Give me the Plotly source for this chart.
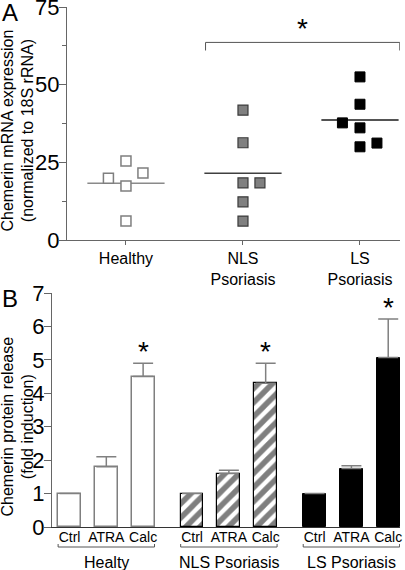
import plotly.graph_objects as go

W, H = 405, 570
FONT = "Liberation Sans, Arial, sans-serif"

# ---------- Panel A data ----------
a_groups = ["Healthy", "NLS<br>Psoriasis", "LS<br>Psoriasis"]
a_group_pos = [1, 2, 3]
healthy_vals = [25.4, 19.9, 17.4, 21.6, 6.1]
healthy_jitter = [0, -0.15, 0, 0.145, 0]
nls_vals = [41.8, 31.3, 18.4, 18.4, 12.3, 6.1]
nls_jitter = [0, 0, 0, 0.145, 0, 0]
ls_vals = [52.5, 43.7, 37.7, 36.1, 30.0, 31.2]
ls_jitter = [0, 0, -0.15, 0, 0, 0.145]
a_means = [18.3, 21.5, 38.6]
bracket_a = [1.68, 3.34, 63.6]

# ---------- Panel B data ----------
b_treat = ["Ctrl", "ATRA", "Calc"]
b_groups = ["Healty", "NLS Psoriasis", "LS Psoriasis"]
healthy_b = [1.0, 1.8, 4.5]
healthy_b_err = [None, 0.3, 0.4]
nls_b = [1.0, 1.6, 4.3]
nls_b_err = [None, 0.1, 0.6]
ls_b = [1.0, 1.75, 5.07]
ls_b_err = [None, 0.08, 1.15]
group_step = 3.33

def px2x(px):
    return px / W

def px2y(py):
    return 1 - py / H

fig = go.Figure()

# ---- Panel A scatter ----
a_series = [
    (healthy_vals, healthy_jitter, "white", "#7f7f7f", 1.5, "#8a8a8a"),
    (nls_vals, nls_jitter, "#808080", "#3a3a3a", 1.2, "#404040"),
    (ls_vals, ls_jitter, "black", "black", 1, "#1a1a1a"),
]
for gi, (vals, jit, fill, edge, ew, mcol) in enumerate(a_series):
    xs = [a_group_pos[gi] + j for j in jit]
    fig.add_trace(go.Scatter(
        x=[a_group_pos[gi] - 0.33, a_group_pos[gi] + 0.33],
        y=[a_means[gi], a_means[gi]], mode="lines", xaxis="x", yaxis="y",
        line=dict(color=mcol, width=1.5), showlegend=False, hoverinfo="skip"))
    fig.add_trace(go.Scatter(
        x=xs, y=vals, mode="markers", xaxis="x", yaxis="y",
        marker=dict(symbol="square", size=10, color=fill,
                    line=dict(color=edge, width=ew)),
        showlegend=False, hoverinfo="skip"))

# ---- Panel B bars ----
b_series = [
    (healthy_b, healthy_b_err, dict(color="white", line=dict(color="#7f7f7f", width=1.5))),
    (nls_b, nls_b_err, dict(color="white", line=dict(color="black", width=1.2),
                             pattern=dict(shape="/", fgcolor="black", bgcolor="white",
                                          size=10, solidity=0.55))),
    (ls_b, ls_b_err, dict(color="black", line=dict(color="black", width=1))),
]
b_tickvals, b_ticktext = [], []
for gi, (vals, errs, mk) in enumerate(b_series):
    xs = [gi * group_step + i for i in range(len(vals))]
    b_tickvals += xs
    b_ticktext += b_treat
    fig.add_trace(go.Bar(
        x=xs, y=vals, width=0.62, xaxis="x2", yaxis="y2", marker=mk,
        error_y=dict(type="data", array=errs, arrayminus=[0] * len(vals),
                     symmetric=False, color="#808080", thickness=1.5, width=10),
        showlegend=False, hoverinfo="skip"))
    # asterisk above Calc
    fig.add_annotation(x=xs[2], y=vals[2] + errs[2], xref="x2", yref="y2",
                       text="*", showarrow=False, yanchor="bottom", yshift=-6,
                       font=dict(size=28, color="black", family=FONT))
    # group bracket
    x0, x1 = xs[0] - 0.31, xs[2] + 0.31
    yb = px2y(547)
    yt = px2y(544)
    fig.add_shape(type="line", xref="x2", yref="paper", x0=x0, x1=x1, y0=yb, y1=yb,
                  line=dict(color="#555555", width=1))
    fig.add_shape(type="line", xref="x2", yref="paper", x0=x0, x1=x0, y0=yb, y1=yt,
                  line=dict(color="#555555", width=1))
    fig.add_shape(type="line", xref="x2", yref="paper", x0=x1, x1=x1, y0=yb, y1=yt,
                  line=dict(color="#555555", width=1))
    fig.add_annotation(x=xs[1], y=px2y(562), xref="x2", yref="paper",
                       text=b_groups[gi], showarrow=False, yanchor="middle",
                       font=dict(size=16, color="black", family=FONT))

# ---- Panel A bracket and asterisk ----
bx0, bx1, by = bracket_a
for (xa, ya, xb, yb2) in [(bx0, by, bx1, by), (bx0, by, bx0, by - 2.6), (bx1, by, bx1, by - 2.6)]:
    fig.add_shape(type="line", xref="x", yref="y", x0=xa, y0=ya, x1=xb, y1=yb2,
                  line=dict(color="#555555", width=1))
fig.add_annotation(x=(bx0 + bx1) / 2, y=by, xref="x", yref="y", text="*",
                   showarrow=False, yanchor="bottom", yshift=-4,
                   font=dict(size=28, color="black", family=FONT))

# ---- Panel letters and y titles ----
fig.add_annotation(x=px2x(0), y=px2y(13), xref="paper", yref="paper", text="A",
                   showarrow=False, xanchor="left", yanchor="middle",
                   font=dict(size=24, color="black", family=FONT))
fig.add_annotation(x=px2x(0), y=px2y(298.5), xref="paper", yref="paper", text="B",
                   showarrow=False, xanchor="left", yanchor="middle",
                   font=dict(size=24, color="black", family=FONT))
fig.add_annotation(x=px2x(17.5), y=px2y(131), xref="paper", yref="paper",
                   text="Chemerin mRNA expression<br>(normalized to 18S rRNA)",
                   textangle=-90, showarrow=False, xanchor="center", yanchor="middle",
                   font=dict(size=16, color="black", family=FONT))
fig.add_annotation(x=px2x(17.5), y=px2y(427), xref="paper", yref="paper",
                   text="Chemerin protein release<br>(fold induction)",
                   textangle=-90, showarrow=False, xanchor="center", yanchor="middle",
                   font=dict(size=16, color="black", family=FONT))

axis_col = "#666666"
fig.update_layout(
    width=W, height=H, margin=dict(l=0, r=0, t=0, b=0, autoexpand=False),
    paper_bgcolor="white", plot_bgcolor="white", bargap=0,
    font=dict(family=FONT, color="black"),
    xaxis=dict(domain=[px2x(67), px2x(400)], range=[0.496, 3.342], automargin=False,
               tickvals=a_group_pos, ticktext=a_groups, ticks="outside", ticklen=4,
               tickcolor=axis_col, showline=True, linecolor=axis_col, linewidth=1.2,
               showgrid=False, zeroline=False, tickfont=dict(size=16),
               ticklabeloverflow="allow", anchor="y"),
    yaxis=dict(domain=[px2y(240), px2y(7)], range=[0, 75], tickvals=[0, 25, 50, 75],
               automargin=False, ticklabeloverflow="allow", ticklabelstandoff=-5,
               ticks="outside", ticklen=7, tickcolor=axis_col, showline=True,
               linecolor=axis_col, linewidth=1.2, showgrid=False, zeroline=False,
               tickfont=dict(size=22),
               minor=dict(tickvals=[12.5, 37.5, 62.5], ticks="outside", ticklen=4,
                          tickcolor=axis_col),
               anchor="x"),
    xaxis2=dict(domain=[px2x(52), px2x(400)], range=[-0.476, 8.98], automargin=False,
                tickvals=b_tickvals, ticktext=b_ticktext, ticks="",
                ticklabeloverflow="allow", ticklabelstandoff=-3,
                showline=True, linecolor="#333333", linewidth=1.2,
                showgrid=False, zeroline=False, tickfont=dict(size=14),
                anchor="y2"),
    yaxis2=dict(domain=[px2y(527), px2y(293)], range=[0, 7], dtick=1, automargin=False,
                ticklabeloverflow="allow", ticklabelstandoff=-5,
                ticks="outside", ticklen=7, tickcolor=axis_col, showline=True,
                linecolor=axis_col, linewidth=1.2, showgrid=False, zeroline=False,
                tickfont=dict(size=22), anchor="x2"),
)

fig.write_html("out.html", config={"displayModeBar": False},
               post_script="document.body.style.margin='0';document.body.style.overflow='hidden';")
